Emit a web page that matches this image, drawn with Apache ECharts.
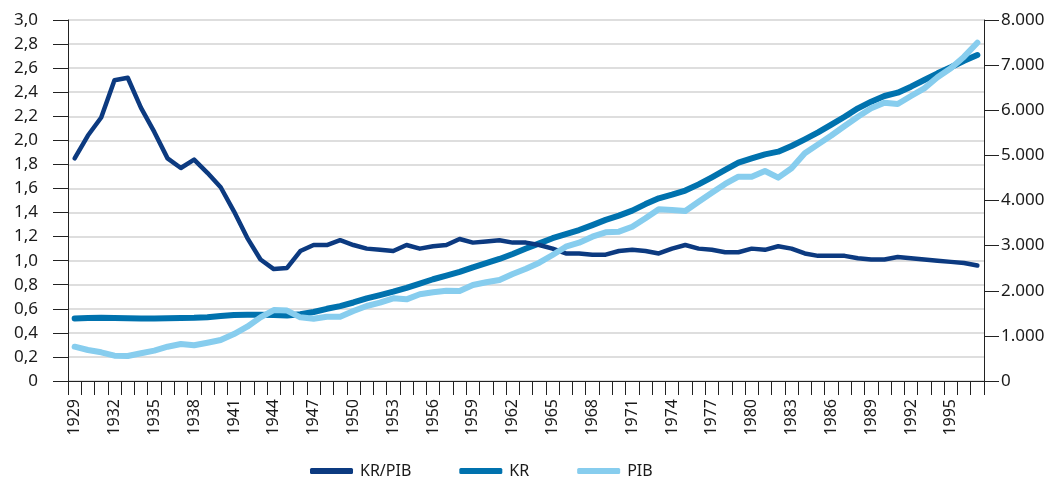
<!DOCTYPE html>
<html>
<head>
<meta charset="utf-8">
<script src="https://cdn.jsdelivr.net/npm/echarts@6/dist/echarts.min.js"></script>
<style>
html,body{margin:0;padding:0;background:#fff;}
#chart{width:1064px;height:480px;}
</style>
</head>
<body>
<div id="chart"></div>
<script>
const years = [];
for (let y = 1929; y <= 1997; y++) years.push(String(y));

const krPib = [1.85,2.04,2.19,2.50,2.52,2.27,2.07,1.85,1.77,1.84,1.73,1.61,1.41,1.19,1.01,0.93,0.94,1.08,1.13,1.13,1.17,1.13,
1.10,1.09,1.08,1.13,1.10,1.12,1.13,1.18,1.15,1.16,1.17,1.15,1.15,1.13,1.10,1.06,1.06,1.05,1.05,1.08,1.09,1.08,1.06,1.10,1.13,
1.10,1.09,1.07,1.07,1.10,1.09,1.12,1.10,1.06,1.04,1.04,1.04,1.02,1.01,1.01,1.03,1.02,1.01,1.00,0.99,0.98,0.96];

const kr = [1387,1395,1400,1395,1390,1385,1385,1390,1395,1400,1415,1440,1465,1470,1470,1460,1450,1480,1530,1600,1660,1740,
1830,1905,1980,2065,2160,2255,2335,2420,2520,2610,2705,2815,2935,3050,3165,3255,3345,3455,3570,3665,3775,3920,4048,4130,4220,
4358,4513,4676,4838,4934,5023,5082,5208,5356,5511,5680,5857,6043,6190,6316,6390,6523,6670,6818,6952,7098,7224];

const pib = [760,687,636,561,554,614,672,760,820,791,849,908,1041,1203,1411,1573,1560,1411,1381,1425,1425,1550,
1662,1735,1833,1810,1921,1966,2001,1994,2127,2187,2238,2371,2489,2622,2792,2976,3065,3198,3295,3309,3419,3605,3805,3789,3767,
3974,4173,4366,4528,4528,4654,4506,4713,5045,5244,5440,5651,5857,6043,6168,6138,6316,6486,6730,6930,7187,7497];

const seriesNames = ['KR/PIB','KR','PIB'];
const colors = ['#0c3a80','#0072ae','#87cdee'];

const font = 'Noto Sans';
const chart = echarts.init(document.getElementById('chart'));
chart.setOption({
  animation: false,
  textStyle: {fontFamily: font},
  grid: {left: 68, right: 80, top: 20, bottom: 99, containLabel: false},
  legend: {
    left: 305, top: 458,
    data: seriesNames.map(n => ({name: n, icon: 'roundRect'})),
    itemWidth: 43, itemHeight: 6, itemGap: 48,
    textStyle: {fontFamily: font, fontSize: 16, color: '#1a1a1a', padding: [0,0,0,2]}
  },
  xAxis: {
    type: 'category',
    data: years,
    boundaryGap: true,
    axisLine: {lineStyle: {color: '#222', width: 1}},
    axisTick: {show: true, interval: 0, length: 14, lineStyle: {color: '#222'}},
    axisLabel: {interval: 2, rotate: 90, fontFamily: font, fontSize: 16, color: '#1a1a1a', margin: 18}
  },
  yAxis: [
    {
      type: 'value', min: 0, max: 3, interval: 0.2, position: 'left',
      axisLine: {show: true, lineStyle: {color: '#222'}},
      axisTick: {show: true, inside: false, length: 15, lineStyle: {color: '#222'}},
      splitLine: {show: true, lineStyle: {color: '#d3d3d3', width: 1.5}},
      axisLabel: {
        fontFamily: font, fontSize: 17, color: '#1a1a1a', margin: 30,
        formatter: v => v === 0 ? '0' : v.toFixed(1).replace('.', ',')
      }
    },
    {
      type: 'value', min: 0, max: 8000, interval: 1000, position: 'right',
      axisLine: {show: true, lineStyle: {color: '#222'}},
      axisTick: {show: true, inside: false, length: 15, lineStyle: {color: '#222'}},
      splitLine: {show: false},
      axisLabel: {
        fontFamily: font, fontSize: 17, color: '#1a1a1a', margin: 17,
        formatter: v => v === 0 ? '0' : String(v).replace(/\B(?=(\d{3})+(?!\d))/g, '.')
      }
    }
  ],
  series: [
    {name: 'KR/PIB', type: 'line', yAxisIndex: 0, data: krPib, symbol: 'none', z: 3,
     lineStyle: {color: colors[0], width: 4.5, cap: 'round', join: 'round'}, itemStyle: {color: colors[0]}},
    {name: 'KR', type: 'line', yAxisIndex: 1, data: kr, symbol: 'none', z: 2,
     lineStyle: {color: colors[1], width: 6, cap: 'round', join: 'round'}, itemStyle: {color: colors[1]}},
    {name: 'PIB', type: 'line', yAxisIndex: 1, data: pib, symbol: 'none', z: 4,
     lineStyle: {color: colors[2], width: 6, cap: 'round', join: 'round'}, itemStyle: {color: colors[2]}}
  ]
});
</script>
</body>
</html>
